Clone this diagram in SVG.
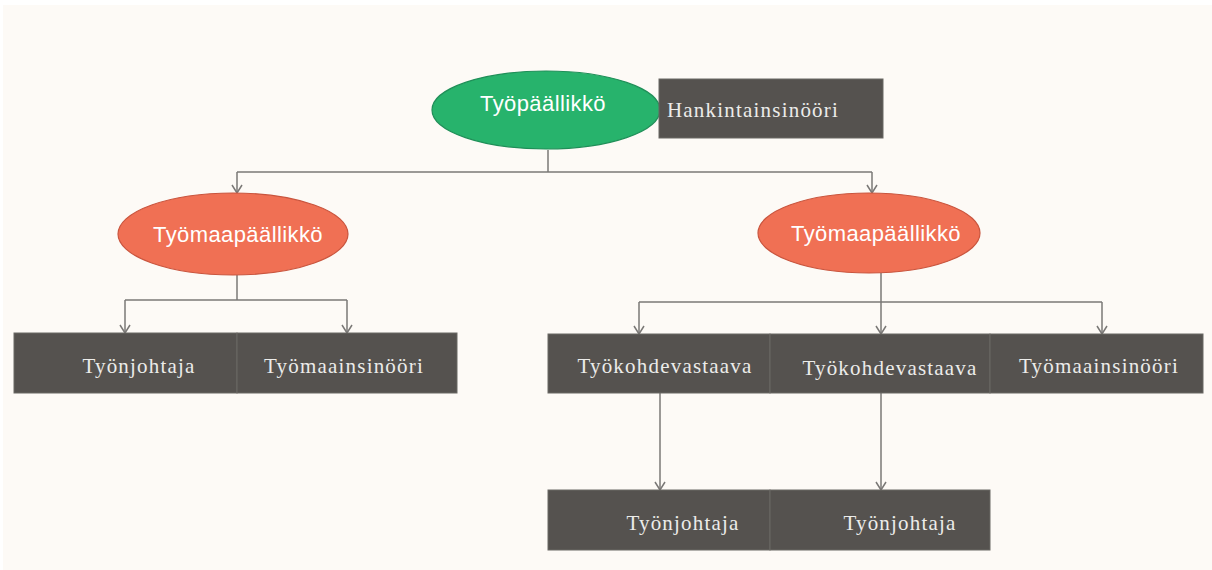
<svg xmlns="http://www.w3.org/2000/svg" width="1212" height="570" viewBox="0 0 1212 570">
  <style>
    .box { fill: #55524f; stroke: #6b6865; stroke-width: 1; }
    .btxt { font-family: "Liberation Serif", "Times New Roman", serif; font-size: 21px; letter-spacing: 1.2px; fill: #ececea; text-anchor: middle; }
    .etxt { font-family: "Liberation Sans", Arial, sans-serif; font-size: 22px; letter-spacing: 0.4px; fill: #ffffff; text-anchor: middle; }
    .green { fill: #27b36c; stroke: #1f8f58; stroke-width: 1.2; }
    .orange { fill: #f07054; stroke: #c9553e; stroke-width: 1.2; }
    .conn { fill: none; stroke: #7a7876; stroke-width: 1.5; }
  </style>
  <defs>
    <!-- open V arrowhead, drawn pointing along +x -->
    <marker id="arrow" viewBox="0 0 12 12" refX="11" refY="6" markerWidth="12" markerHeight="12" markerUnits="userSpaceOnUse" orient="auto">
      <polyline points="3,1 11,6 3,11" fill="none" stroke="#7a7876" stroke-width="1.5"/>
    </marker>
  </defs>

  <!-- page background -->
  <rect x="0" y="0" width="1212" height="570" fill="#ffffff"/>
  <rect x="3" y="5" width="1209" height="565" fill="#fdfaf6"/>

  <!-- connectors -->
  <g id="connectors" class="conn">
    <path d="M548,150 V172"/>
    <path d="M237,172 H872"/>
    <path d="M237,172 V193" marker-end="url(#arrow)"/>
    <path d="M872,172 V193" marker-end="url(#arrow)"/>

    <path d="M237,275 V300"/>
    <path d="M125,300 H347"/>
    <path d="M125,300 V333" marker-end="url(#arrow)"/>
    <path d="M347,300 V333" marker-end="url(#arrow)"/>

    <path d="M881,273 V302"/>
    <path d="M639,302 H1102"/>
    <path d="M639,302 V334" marker-end="url(#arrow)"/>
    <path d="M881,302 V334" marker-end="url(#arrow)"/>
    <path d="M1102,302 V334" marker-end="url(#arrow)"/>

    <path d="M660,393 V490" marker-end="url(#arrow)"/>
    <path d="M881,393 V490" marker-end="url(#arrow)"/>
  </g>

  <!-- top level -->
  <g id="tyopaallikko">
    <ellipse class="green" cx="546" cy="110" rx="114" ry="39"/>
    <text class="etxt" x="543" y="111">Työpäällikkö</text>
  </g>
  <g id="hankintainsinoori">
    <rect class="box" x="659" y="79" width="224" height="59"/>
    <text class="btxt" x="753" y="117">Hankintainsinööri</text>
  </g>

  <!-- site managers -->
  <g id="tyomaapaallikko-1">
    <ellipse class="orange" cx="233" cy="234" rx="115" ry="41"/>
    <text class="etxt" x="238" y="242">Työmaapäällikkö</text>
  </g>
  <g id="tyomaapaallikko-2">
    <ellipse class="orange" cx="869" cy="233" rx="111" ry="40"/>
    <text class="etxt" x="876" y="241">Työmaapäällikkö</text>
  </g>

  <!-- left branch -->
  <g id="tyonjohtaja-1">
    <rect class="box" x="14" y="333" width="223" height="60"/>
    <text class="btxt" x="139" y="373">Työnjohtaja</text>
  </g>
  <g id="tyomaainsinoori-1">
    <rect class="box" x="237" y="333" width="220" height="60"/>
    <text class="btxt" x="344" y="373">Työmaainsinööri</text>
  </g>

  <!-- right branch -->
  <g id="tyokohdevastaava-1">
    <rect class="box" x="548" y="334" width="222" height="59"/>
    <text class="btxt" x="665" y="373">Työkohdevastaava</text>
  </g>
  <g id="tyokohdevastaava-2">
    <rect class="box" x="770" y="334" width="220" height="59"/>
    <text class="btxt" x="890" y="375">Työkohdevastaava</text>
  </g>
  <g id="tyomaainsinoori-2">
    <rect class="box" x="990" y="334" width="213" height="59"/>
    <text class="btxt" x="1099" y="373">Työmaainsinööri</text>
  </g>

  <!-- foremen under the site supervisors -->
  <g id="tyonjohtaja-2">
    <rect class="box" x="548" y="490" width="222" height="60"/>
    <text class="btxt" x="683" y="530">Työnjohtaja</text>
  </g>
  <g id="tyonjohtaja-3">
    <rect class="box" x="770" y="490" width="220" height="60"/>
    <text class="btxt" x="900" y="530">Työnjohtaja</text>
  </g>
</svg>
